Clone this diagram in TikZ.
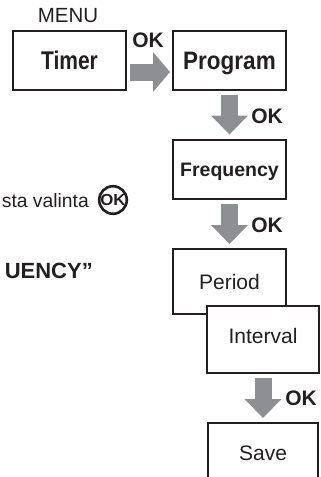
\documentclass[tikz,border=0pt]{standalone}
\usepackage{fontspec}
\setmainfont{Liberation Sans}
\usetikzlibrary{arrows.meta}
\definecolor{ink}{HTML}{231F20}
\definecolor{arrowgrey}{HTML}{8E8F92}
\begin{document}
\begin{tikzpicture}[x=1pt,y=-1pt,color=ink,
  box/.style={draw=ink, line width=2pt, fill=white, minimum width=113pt, minimum height=59pt,
    inner sep=0pt, text height=15pt, text depth=0pt, font=\fontsize{21}{24}\selectfont},
  boldbox/.style={box, font=\fontsize{21}{24}\selectfont\bfseries, text height=18pt},
  okl/.style={font=\fontsize{21}{24}\selectfont\bfseries, inner sep=0pt, text=ink},
  blockarrow/.style={draw=arrowgrey, line width=17pt,
    -{Triangle[length=19pt, width=37pt, line width=0pt]}, shorten <=4pt, shorten >=4pt}
]
\useasboundingbox (0,0) rectangle (321,477);
\clip (0,0) rectangle (321,477);

% texts at left
\node[font=\fontsize{20.5}{24}\selectfont, anchor=base, inner sep=0pt] (menu) at (68,22.5) {MENU};
\node[font=\fontsize{19.3}{24}\selectfont, anchor=base east, inner sep=0pt] (valinta) at (89,207.5) {sta valinta};
\node[circle, draw=ink, line width=2.6pt, minimum size=27.5pt, inner sep=0pt,
      font=\fontsize{16}{16}\selectfont\bfseries] (okicon) at (113,200) {\scalebox{1.05}[1]{OK}};
\node[font=\fontsize{22}{24}\selectfont\bfseries, anchor=base east, inner sep=0pt] (uency) at (93,278) {UENCY”};

% boxes
\node[boldbox] (timer) at (69.5,60.5) {\scalebox{1}[1.22]{Timer}};
\node[boldbox] (program) at (229.5,60.5) {\fontsize{22.5}{24}\selectfont\scalebox{1}[1.12]{Program}};
\node[boldbox, font=\fontsize{19.5}{24}\selectfont\bfseries, text height=14pt] (freq) at (229.5,169) {Frequency};
\node[box, minimum height=65pt] (period) at (229.5,281.5) {Period};
\node[box, minimum width=112pt, minimum height=67pt, text depth=7pt] (interval) at (263,339.5) {Interval};
\node[box, minimum width=110pt, minimum height=59pt] (save) at (263,452.5) {Save};

% arrows
\draw[blockarrow, -{Triangle[length=17pt, width=40pt, line width=0pt]}, shorten <=3pt, shorten >=2pt]
  ([yshift=-11.5pt]timer.east) -- ([yshift=-11.5pt]program.west);
\draw[blockarrow] (program.south) -- (freq.north);
\draw[blockarrow] (freq.south) -- (period.north);
\draw[blockarrow] (interval.south) -- (save.north);

% OK labels
\node[okl] (ok1) at (148,40) {OK};
\node[okl] (ok2) at (267,116) {OK};
\node[okl] (ok3) at (267,225) {OK};
\node[okl] (ok4) at (301,398.5) {OK};
\end{tikzpicture}
\end{document}
